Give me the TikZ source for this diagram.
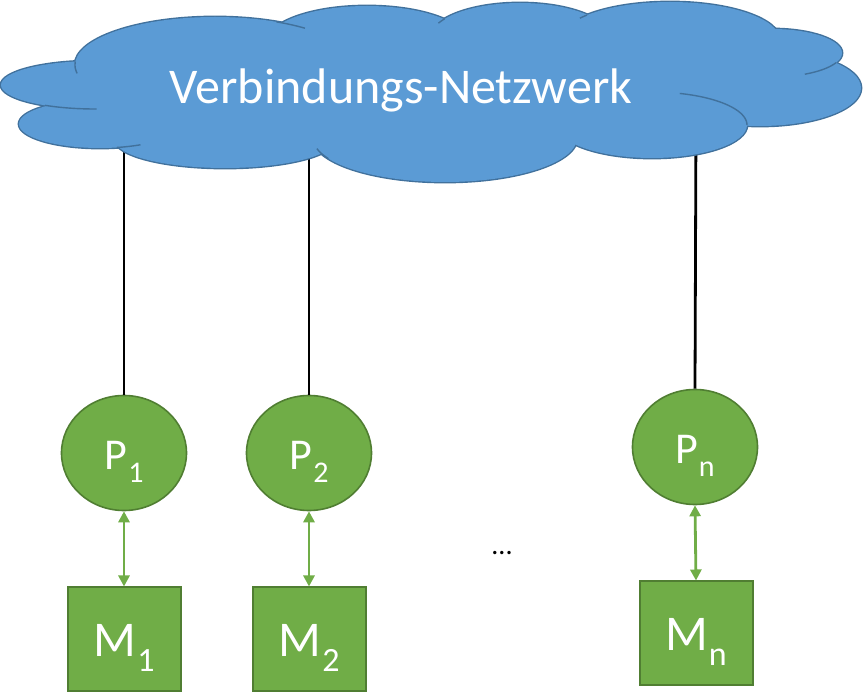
\documentclass[tikz,border=0pt]{standalone}
\usepackage{fontspec}
\setmainfont{Carlito}
\usetikzlibrary{arrows.meta,shapes.geometric}
\definecolor{cloudfill}{HTML}{5B9BD5}
\definecolor{cloudedge}{HTML}{41719C}
\definecolor{ofgreen}{HTML}{70AD47}
\definecolor{ofgreenedge}{HTML}{507E32}
\newcommand{\lowtext}[3]{\kern1pt\raisebox{-#1}{\fontsize{#2}{#2}\selectfont #3}}
\newcommand{\cloudtail}[6]{\draw[tailline] plot[domain=#5:#6, samples=25, smooth] ({#1+#3*cos(\x)},{#2+#4*sin(\x)});}
\begin{document}
\begin{tikzpicture}[x=1pt,y=-1pt,
  proc/.style={ellipse, draw=ofgreenedge, fill=ofgreen, line width=1.6pt,
    minimum width=125pt, minimum height=115pt, inner sep=0pt, text=white,
    font=\fontsize{44}{50}\selectfont, text height=34pt, text depth=0pt},
  mem/.style={rectangle, draw=ofgreenedge, fill=ofgreen, line width=2pt,
    minimum width=113pt, minimum height=103pt, inner sep=0pt, text=white,
    font=\fontsize{50}{56}\selectfont, text height=34pt, text depth=0pt},
  link/.style={line width=2.8pt, draw=black},
  access/.style={line width=2.8pt, draw=ofgreen,
    {Triangle[width=11pt,length=11pt]}-{Triangle[width=11pt,length=11pt]}},
  tailline/.style={draw=cloudedge, line width=1.4pt},
  cloudtext/.style={anchor=base, text=white, font=\fontsize{50}{56}\selectfont},
  dotstext/.style={anchor=base, text=black, font=\fontsize{28}{30}\selectfont}]
\useasboundingbox (0,0) rectangle (863,700);

% processors and memories
\node[proc] (P1) at (124,453) {P\lowtext{13pt}{30}{1}};
\node[proc] (P2) at (309,453) {P\lowtext{13pt}{30}{2}};
\node[proc] (Pn) at (695,447) {P\lowtext{13pt}{30}{n}};
\node[mem] (M1) at (124,639) {M\lowtext{15pt}{34}{1}};
\node[mem] (M2) at (309,639) {M\lowtext{15pt}{34}{2}};
\node[mem] (Mn) at (696,633) {M\lowtext{15pt}{34}{n}};
\node[dotstext] (dots) at (502,555) {...};

% connections to the network
\coordinate (c1) at (124,120);
\coordinate (c2) at (309,120);
\coordinate (cn) at (696,120);
\draw[link] (c1) -- (P1.north);
\draw[link] (c2) -- (P2.north);
\draw[link] (cn) -- (Pn.north);

% processor-memory access
\draw[access] (P1.south) -- (M1.north);
\draw[access] (P2.south) -- (M2.north);
\draw[access] (Pn.south) -- (Mn.north);

% cloud
\foreach \cx/\cy/\rx/\ry in {95/85/94/24, 100/124/81/24, 215/65/140/48, 367/42/100/36,
  520/38/90/35, 670/40/110/38, 772/53/70/24, 760/88/101/38, 652/125/95/33,
  445/138/132/44, 225/140/110/28}
  \draw[draw=cloudedge, line width=2.8pt] (\cx,\cy) ellipse [x radius=\rx, y radius=\ry];
\foreach \cx/\cy/\rx/\ry in {95/85/94/24, 100/124/81/24, 215/65/140/48, 367/42/100/36,
  520/38/90/35, 670/40/110/38, 772/53/70/24, 760/88/101/38, 652/125/95/33,
  445/138/132/44, 225/140/110/28}
  \fill[cloudfill] (\cx,\cy) ellipse [x radius=\rx, y radius=\ry];
\fill[cloudfill] (95,85) -- (100,124) -- (225,140) -- (445,138) -- (652,125) -- (760,88)
  -- (772,53) -- (670,40) -- (520,38) -- (367,42) -- (215,65) -- cycle;
\cloudtail{95}{85}{94}{24}{89}{122}
\cloudtail{100}{124}{81}{24}{60}{78}
\cloudtail{215}{65}{140}{48}{296}{310}
\cloudtail{215}{65}{140}{48}{170}{184}
\cloudtail{520}{38}{90}{35}{205}{213}
\cloudtail{670}{40}{110}{38}{215}{221}
\cloudtail{772}{53}{70}{24}{24}{62}
\cloudtail{652}{125}{95}{33}{287}{360}
\cloudtail{445}{138}{132}{44}{152}{166}
\node[cloudtext] (net) at (401,104) {Verbindungs-Netzwerk};
\end{tikzpicture}
\end{document}
